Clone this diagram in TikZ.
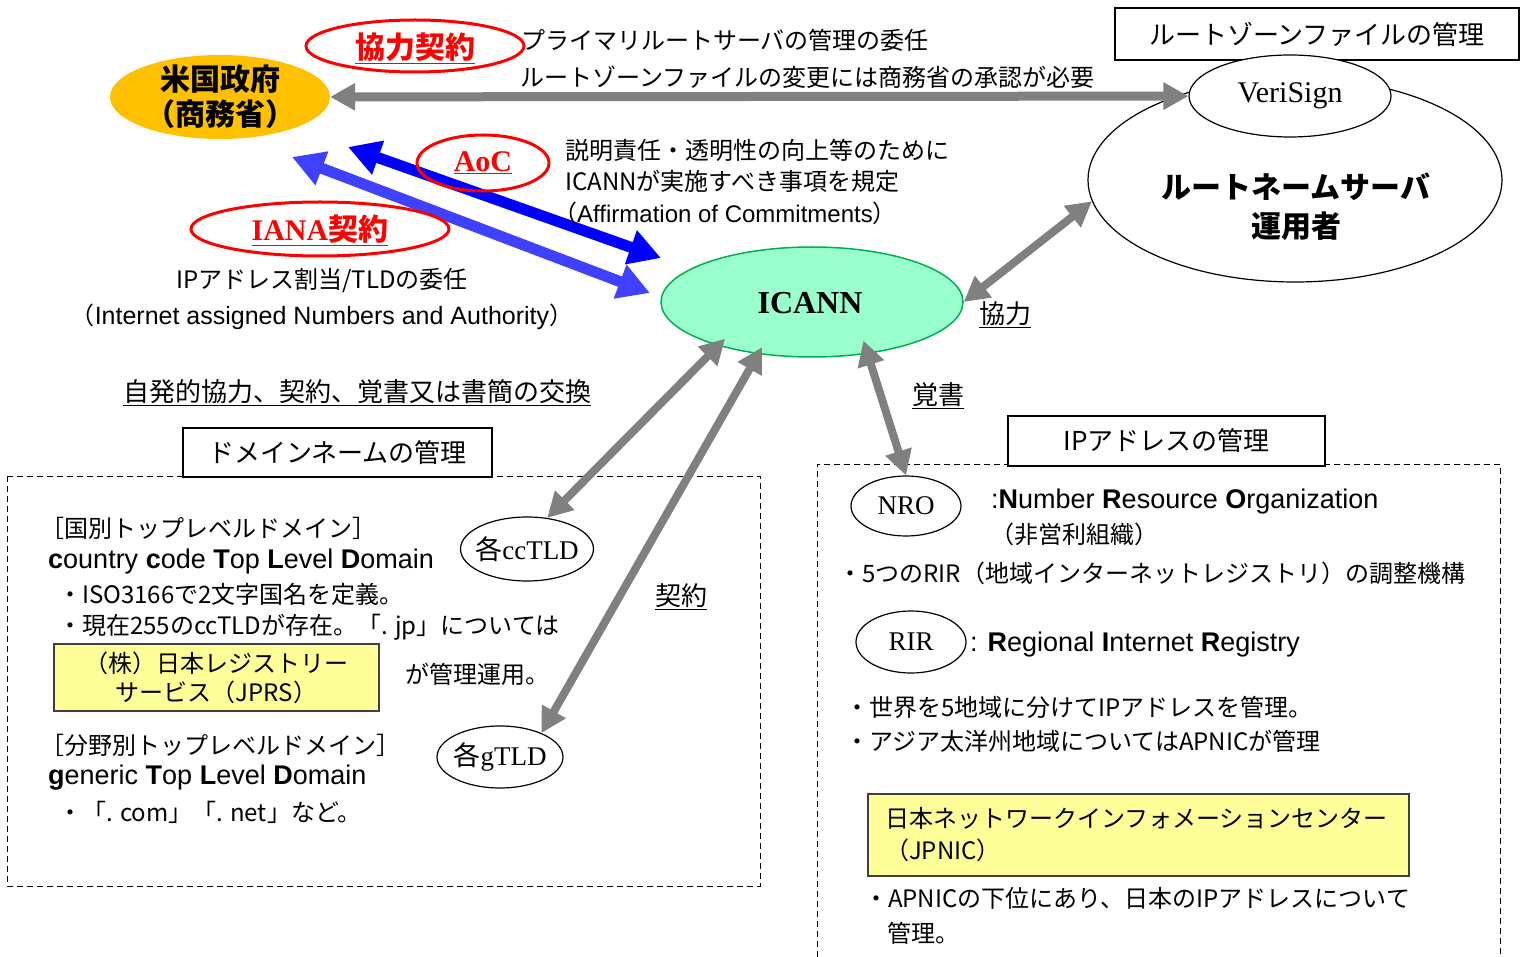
\documentclass[tikz,border=0pt]{standalone}
\usepackage{fontspec}
\setmainfont{Noto Sans CJK JP}
\newfontfamily\latinsans{Liberation Sans}
\newfontfamily\latinserif{Liberation Serif}
\usetikzlibrary{shapes.geometric,arrows.meta}

\definecolor{govorange}{HTML}{FFC000}
\definecolor{icannfill}{HTML}{99FFCC}
\definecolor{icanndraw}{HTML}{00B050}
\definecolor{notefill}{HTML}{FFFF99}
\definecolor{arrowgray}{HTML}{808080}
\definecolor{aocblue}{HTML}{0000FF}
\definecolor{ianablue}{HTML}{4040FF}

\tikzset{
  graytip/.tip={Triangle[width=26pt,length=25pt]},
  bluetip/.tip={Triangle[width=34pt,length=32pt]},
  oval/.style={ellipse, draw=black, line width=1.2pt, inner sep=0pt},
  redoval/.style={ellipse, draw=red, line width=3pt, inner sep=0pt},
  txt/.style={inner sep=0pt, font=\fontsize{24}{29}\selectfont},
  bigtxt/.style={inner sep=0pt, font=\fontsize{26}{31}\selectfont},
  entxt/.style={inner sep=0pt, font=\latinsans\fontsize{27}{32}\selectfont},
  headbox/.style={draw=black, line width=1.2pt, inner sep=0pt, font=\fontsize{26}{31}\selectfont},
  notebox/.style={draw=black!75, line width=1.5pt, fill=notefill, inner sep=0pt, font=\fontsize{24}{29}\selectfont},
  grayarrow/.style={draw=arrowgray, line width=8pt, graytip-graytip},
  bluearrow/.style={line width=11pt, bluetip-bluetip},
  dashbox/.style={draw=black, line width=1pt, dash pattern=on 6pt off 4pt},
}

\begin{document}
\begin{tikzpicture}[x=1pt,y=-1pt]
\useasboundingbox (0,0) rectangle (1521,957);

% Drawing dashed frames
\draw [dashbox] (7,476) rectangle (760,886);%
\draw [dashbox] (817,957) -- (817,464) -- (1500,464) -- (1500,957);%

% Drawing ellipse government
\node [ellipse, fill=govorange, inner sep=0pt, minimum width=220pt, minimum height=84pt] (gov) at (220,97) {};%
\node [inner sep=0pt, align=center, font=\bfseries\fontsize{30}{35}\selectfont] (govtext) at (gov) {米国政府\\（商務省）};%

% Drawing ellipse root server operators
\node [oval, minimum width=414pt, minimum height=204pt] (rootop) at (1295,180) {};%
\node [inner sep=0pt, align=center, font=\bfseries\fontsize{30}{39}\selectfont] (rootoptext) at (1296,207) {ルートネームサーバ\\運用者};%

% Drawing box root zone
\node [headbox, fill=white, minimum width=404pt, minimum height=52pt] (rootzone) at (1317,34) {ルートゾーンファイルの管理};%

% Drawing ellipse VeriSign
\node [oval, fill=white, minimum width=202pt, minimum height=82pt] (verisign) at (1290,96) {};%
\node [inner sep=0pt, font=\latinserif\fontsize{30}{36}\selectfont] (verisigntext) at (verisign) {VeriSign};%

% Drawing ellipse ICANN
\node [ellipse, draw=icanndraw, line width=1.5pt, fill=icannfill, inner sep=0pt, minimum width=302pt, minimum height=110pt] (icann) at (812,302) {};%
\node [inner sep=0pt, font=\latinserif\bfseries\fontsize{32}{38}\selectfont] (icanntext) at (810,303) {ICANN};%

% Drawing boxes domain names and IP addresses
\node [headbox, fill=white, minimum width=309pt, minimum height=49pt] (domainhead) at (337.5,452.5) {ドメインネームの管理};%
\node [headbox, fill=white, minimum width=317pt, minimum height=50pt] (iphead) at (1166.5,441) {IPアドレスの管理};%

% Drawing ellipses ccTLD, gTLD, NRO, RIR
\node [oval, minimum width=133pt, minimum height=64pt] (cctld) at (527,549) {};%
\node [inner sep=0pt, font=\fontsize{27}{32}\selectfont] (cctldtext) at (cctld) {各{\latinserif ccTLD}};%
\node [oval, minimum width=126pt, minimum height=62pt] (gtld) at (500,757) {};%
\node [inner sep=0pt, font=\fontsize{27}{32}\selectfont] (gtldtext) at (gtld) {各{\latinserif gTLD}};%
\node [oval, minimum width=110pt, minimum height=60pt] (nro) at (906,506) {};%
\node [inner sep=0pt, font=\latinserif\fontsize{27}{32}\selectfont] (nrotext) at (nro) {NRO};%
\node [oval, minimum width=110pt, minimum height=62pt] (rir) at (911,642) {};%
\node [inner sep=0pt, font=\latinserif\fontsize{27}{32}\selectfont] (rirtext) at (rir) {RIR};%

% Drawing yellow boxes JPRS and JPNIC
\node [notebox, minimum width=325pt, minimum height=67pt, align=center] (jprs) at (216.5,677.5) {（株）日本レジストリー\\サービス（JPRS）};%
\node [notebox, minimum width=541pt, minimum height=82pt, text width=507pt, inner xsep=17pt, align=left, font=\fontsize{24}{32}\selectfont] (jpnic) at (1138.5,835) {日本ネットワークインフォメーションセンター\\（JPNIC）};%

% Drawing gray arrows
\draw [grayarrow, line width=9pt] (gov) -- (verisign);%
\draw [grayarrow] (icann.east) -- (rootop.186);%
\draw [grayarrow, shorten <=-10pt] (icann.205) -- (cctld.57);%
\draw [grayarrow, shorten <=-8pt] (icann.224) -- (gtld.30);%
\draw [grayarrow, shorten <=-14pt] (icann.317) -- (nro.north);%

% Drawing blue arrows
\coordinate (aocfrom) at (348,147);
\coordinate (aocto) at (661,258);
\draw [bluearrow, draw=aocblue] (aocfrom) -- (aocto);%
\coordinate (ianafrom) at (292,157);
\coordinate (ianato) at (650,293);
\draw [bluearrow, draw=ianablue] (ianafrom) -- (ianato);%

% Drawing red ellipses
\node [redoval, minimum width=218pt, minimum height=52pt] (kyoryoku) at (415,46) {};%
\node [inner sep=0pt, text=red, font=\bfseries\fontsize{30}{36}\selectfont] (kyoryokutext) at (415,48) {\underline{協力契約}};%
\node [redoval, minimum width=132pt, minimum height=56pt] (aoc) at (483,163) {};%
\node [inner sep=0pt, text=red, font=\latinserif\bfseries\fontsize{30}{36}\selectfont] (aoctext) at (483,163) {\underline{AoC}};%
\node [redoval, minimum width=258pt, minimum height=54pt] (iana) at (320,229) {};%
\node [inner sep=0pt, text=red, font=\bfseries\fontsize{30}{36}\selectfont] (ianatext) at (320,230) {\underline{{\latinserif IANA}契約}};%

% Marking upper texts
\node [txt, anchor=west] (primary) at (521,40) {プライマリルートサーバの管理の委任};%
\node [txt, anchor=west] (zonechange) at (520,77) {ルートゾーンファイルの変更には商務省の承認が必要};%
\node [txt, anchor=west] (aocline1) at (565,150) {説明責任・透明性の向上等のために};%
\node [txt, anchor=west] (aocline2) at (565,181) {ICANNが実施すべき事項を規定};%
\node [txt, anchor=west] (aocline3) at (553,213) {（{\latinsans Affirmation of Commitments}）};%
\node [txt] (ianaline1) at (322,281) {IPアドレス割当/TLDの委任};%
\node [txt] (ianaline2) at (322,317) {（{\latinsans\fontsize{25}{30}\selectfont Internet assigned Numbers and Authority}）};%

% Marking underlined labels
\node [bigtxt] (cooplabel) at (1005,315) {\underline{協力}};%
\node [bigtxt] (exchange) at (357,393) {\underline{自発的協力、契約、覚書又は書簡の交換}};%
\node [bigtxt] (contract) at (681,597) {\underline{契約}};%
\node [bigtxt] (memo) at (938,396) {\underline{覚書}};%

% Marking domain name texts
\node [txt, anchor=west] (cclabel) at (40,528) {［国別トップレベルドメイン］};%
\node [entxt, anchor=west] (ccname) at (48,562) {\textbf{c}ountry \textbf{c}ode \textbf{T}op \textbf{L}evel \textbf{D}omain};%
\node [txt, anchor=west] (ccline1) at (58,594) {・ISO3166で2文字国名を定義。};%
\node [txt, anchor=west] (ccline2) at (58,627) {・現在255のccTLDが存在。「. jp」については};%
\node [txt, anchor=west] (jprsrole) at (405,674) {が管理運用。};%
\node [txt, anchor=west] (glabel) at (40,745) {［分野別トップレベルドメイン］};%
\node [entxt, anchor=west] (gname) at (48,778) {\textbf{g}eneric \textbf{T}op \textbf{L}evel \textbf{D}omain};%
\node [txt, anchor=west] (gline) at (58,812) {・「. com」「. net」など。};%

% Marking IP address texts
\node [entxt, anchor=west] (nroname) at (991,502) {:\textbf{N}umber \textbf{R}esource \textbf{O}rganization};%
\node [txt, anchor=west] (nronote) at (990,534) {（非営利組織）};%
\node [txt, anchor=west] (nroline) at (838,573) {・5つのRIR（地域インターネットレジストリ）の調整機構};%
\node [entxt, anchor=west] (rirname) at (970,645) {: \textbf{R}egional \textbf{I}nternet \textbf{R}egistry};%
\node [txt, anchor=west] (rirline1) at (845,707) {・世界を5地域に分けてIPアドレスを管理。};%
\node [txt, anchor=west] (rirline2) at (845,741) {・アジア太洋州地域についてはAPNICが管理};%
\node [txt, anchor=west] (jpnicline1) at (864,898) {・APNICの下位にあり、日本のIPアドレスについて};%
\node [txt, anchor=west] (jpnicline2) at (887,933) {管理。};%
\end{tikzpicture}
\end{document}
